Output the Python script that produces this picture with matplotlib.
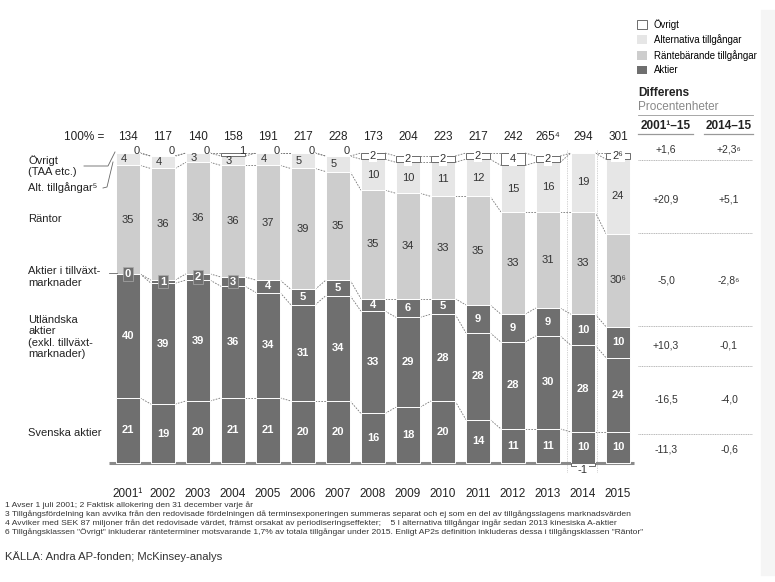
import numpy as np
import matplotlib.pyplot as plt
from matplotlib.lines import Line2D
from matplotlib.patches import Patch, Rectangle

plt.rcParams['font.family'] = ['Liberation Sans', 'DejaVu Sans']

years = ['2001¹', '2002', '2003', '2004', '2005', '2006', '2007', '2008',
         '2009', '2010', '2011', '2012', '2013', '2014', '2015']
totals = ['134', '117', '140', '158', '191', '217', '228', '173', '204',
          '223', '217', '242', '265⁴', '294', '301']

svenska = [21, 19, 20, 21, 21, 20, 20, 16, 18, 20, 14, 11, 11, 10, 10]
utlandska = [40, 39, 39, 36, 34, 31, 34, 33, 29, 28, 28, 28, 30, 28, 24]
tillvaxt = [0, 1, 2, 3, 4, 5, 5, 4, 6, 5, 9, 9, 9, 10, 10]
rantor = [35, 36, 36, 36, 37, 39, 35, 35, 34, 33, 35, 33, 31, 33, 30]
alternativa = [4, 4, 3, 3, 4, 5, 5, 10, 10, 11, 12, 15, 16, 19, 24]
ovrigt = [0, 0, 0, 1, 0, 0, 0, 2, 2, 2, 2, 4, 2, -1, 2]
label_notes = {('rantor', 14): '⁶', ('ovrigt', 14): '⁶'}

row_labels = ['Övrigt\n(TAA etc.)', 'Alt. tillgångar⁵', 'Räntor',
              'Aktier i tillväxt-\nmarknader',
              'Utländska\naktier\n(exkl. tillväxt-\nmarknader)', 'Svenska aktier']
diff_long = ['+1,6', '+20,9', '-5,0', '+10,3', '-16,5', '-11,3']
diff_short = ['+2,3⁶', '+5,1', '-2,8⁶', '-0,1', '-4,0', '-0,6']

footnotes = [
    '1 Avser 1 juli 2001; 2 Faktisk allokering den 31 december varje år',
    '3 Tillgångsfördelning kan avvika från den redovisade fördelningen då terminsexponeringen '
    'summeras separat och ej som en del av tillgångsslagens marknadsvärden',
    '4 Avviker med SEK 87 miljoner från det redovisade värdet, främst orsakat av '
    'periodiseringseffekter;    5 I alternativa tillgångar ingår sedan 2013 kinesiska A-aktier',
    '6 Tillgångsklassen "Övrigt" inkluderar ränteterminer motsvarande 1,7% av totala tillgångar '
    'under 2015. Enligt AP2s definition inkluderas dessa i tillgångsklassen "Räntor"',
]

DARK = '#6f6f6f'
MID = '#cdcdcd'
LIGHT = '#e6e6e6'
TXT = '#333333'

W, H = 775, 582


def px(x, y):
    return x / W, 1 - y / H


fig = plt.figure(figsize=(7.75, 5.82), dpi=100)
fig.patches.append(Rectangle(px(761, 575), 14 / W, 565 / H, transform=fig.transFigure,
                             color='#f5f5f5', zorder=0))

ax = fig.add_axes([110.5 / W, (H - 478.5) / H, 525 / W, 356.5 / H])
ax.set_xlim(-0.5, 14.5)
ax.set_ylim(-5, 110)
for s in ax.spines.values():
    s.set_visible(False)
ax.set_yticks([])
x = np.arange(len(years))
ax.set_xticks(x, years, fontsize=8.5, color='#222222')
ax.tick_params(axis='x', length=0, pad=6.5)
ax.patch.set_alpha(0)

bw = 0.69
hw = bw / 2
layers = [('svenska', svenska, DARK), ('utlandska', utlandska, DARK),
          ('tillvaxt', tillvaxt, DARK), ('rantor', rantor, MID),
          ('alternativa', alternativa, LIGHT)]

bottom = np.zeros(len(x))
levels = []
for name, vals, col in layers:
    vals = np.array(vals, dtype=float)
    ax.bar(x, vals, bottom=bottom, width=bw, color=col, edgecolor='white',
           linewidth=0.7, zorder=2)
    for i, v in enumerate(vals):
        mid = bottom[i] + v / 2
        lab = str(int(v)) + label_notes.get((name, i), '')
        if col == DARK:
            if name == 'tillvaxt' and v <= 3:
                ax.text(i, mid, lab, ha='center', va='center', fontsize=8,
                        color='white', fontweight='bold', zorder=4,
                        bbox=dict(boxstyle='square,pad=0.15', fc=DARK, ec='#aaaaaa', lw=0.5))
            else:
                ax.text(i, mid, lab, ha='center', va='center', fontsize=8,
                        color='white', fontweight='bold', zorder=4)
        else:
            xo = -0.12 if (name == 'alternativa' and v < 6) else 0
            ax.text(i + xo, mid, lab, ha='center', va='center', fontsize=8,
                    color=TXT, zorder=4)
    bottom = bottom + vals
    levels.append(bottom.copy())

# Övrigt: white boxes on top (negative values below the baseline)
ov = np.array(ovrigt, dtype=float)
ov_bottom = np.where(ov >= 0, bottom, 0)
mask = ov != 0
ax.bar(x[mask], ov[mask], bottom=ov_bottom[mask], width=bw, color='white',
       edgecolor='#555555', linewidth=0.6, zorder=2)
for i, v in enumerate(ov):
    lab = str(int(v)) + label_notes.get(('ovrigt', i), '')
    if i < 7:
        ax.text(i + 0.25, 100.7, lab, ha='center', va='center',
                fontsize=8, color=TXT, zorder=4)
    else:
        yc = ov_bottom[i] + v / 2
        if v < 0:
            yc = -2.3
        ax.text(i, yc, lab, ha='center', va='center', fontsize=8, color=TXT, zorder=4,
                bbox=dict(boxstyle='square,pad=0.12', fc='white', ec='none'))
top = bottom + np.clip(ov, 0, None)
levels.append(top)

# dashed connectors between bars
for lev in levels:
    for i in range(len(x) - 1):
        ax.plot([i + hw, i + 1 - hw], [lev[i], lev[i + 1]], color='#777777',
                lw=0.6, ls=(0, (2, 1.5)), zorder=1)

# faint dotted guides around 2014
for gx in (12.54, 13.4):
    ax.plot([gx, gx], [-3, 101], color='#aaaaaa', lw=0.5, ls=(0, (1, 1.5)), zorder=1)

# baseline
ax.plot([-0.55, 14.45], [0, 0], color='#8a8a8a', lw=2.2, zorder=1,
        solid_capstyle='butt', clip_on=False)

# totals
ax.text(-0.68, 105, '100% =', ha='right', va='center', fontsize=8.5, color='#222222')
for i, t in enumerate(totals):
    ax.text(i, 105, t, ha='center', va='center', fontsize=8.5, color='#222222')

# left row labels
label_y = [166, 188, 219, 277, 337, 433]
for lab, yy in zip(row_labels, label_y):
    fig.text(*px(28, yy), lab, ha='left', va='center', fontsize=8,
             color='#222222', linespacing=1.2)
fig.add_artist(Line2D([84 / W, 108 / W, 115 / W], [1 - 166 / H, 1 - 166 / H, 1 - 152 / H],
                      color='#666666', lw=0.6))
fig.add_artist(Line2D([103 / W, 107 / W, 113 / W], [1 - 188 / H, 1 - 187 / H, 1 - 162 / H],
                      color='#666666', lw=0.6))
fig.add_artist(Line2D([109 / W, 117 / W], [1 - 273 / H, 1 - 273 / H],
                      color='#666666', lw=0.6))

# legend
handles = [Patch(fc='white', ec='#555555', lw=0.6, label='Övrigt'),
           Patch(fc=LIGHT, ec='none', label='Alternativa tillgångar'),
           Patch(fc=MID, ec='none', label='Räntebärande tillgångar'),
           Patch(fc=DARK, ec='none', label='Aktier')]
fig.legend(handles=handles, loc='upper left', bbox_to_anchor=px(633, 15),
           frameon=False, fontsize=6.9, handlelength=1.05, handleheight=1.05,
           handletextpad=0.7, labelspacing=0.48, borderaxespad=0)

# difference table
fig.text(*px(638, 93), 'Differens', ha='left', va='center', fontsize=8.5,
         fontweight='bold', color='#222222')
fig.text(*px(638, 107), 'Procentenheter', ha='left', va='center', fontsize=8.5,
         color='#888888')
fig.add_artist(Line2D([638 / W, 753 / W], [1 - 115 / H] * 2, color='#999999', lw=0.6))
fig.text(*px(666, 126), '2001¹–15', ha='center', va='center', fontsize=8.5,
         fontweight='bold', color='#222222')
fig.text(*px(729, 126), '2014–15', ha='center', va='center', fontsize=8.5,
         fontweight='bold', color='#222222')
fig.add_artist(Line2D([638 / W, 693 / W], [1 - 134 / H] * 2, color='#999999', lw=0.9))
fig.add_artist(Line2D([704 / W, 753 / W], [1 - 134 / H] * 2, color='#999999', lw=0.9))
row_y = [150, 200, 280, 346, 400, 449]
sep_y = [160, 233, 326, 366, 434]
for a, b, yy in zip(diff_long, diff_short, row_y):
    fig.text(*px(666, yy), a, ha='center', va='center', fontsize=7.5, color='#333333')
    fig.text(*px(729, yy), b, ha='center', va='center', fontsize=7.5, color='#333333')
for yy in sep_y:
    fig.add_artist(Line2D([638 / W, 752 / W], [1 - yy / H] * 2, color='#999999',
                          lw=0.5, ls=(0, (1.5, 1))))

# footnotes and source
for k, line in enumerate(footnotes):
    fig.text(*px(5, 505 + 8.9 * k), line, ha='left', va='center', fontsize=6.1,
             color='#333333')
fig.text(*px(5, 557), 'KÄLLA: Andra AP-fonden; McKinsey-analys', ha='left', va='center',
         fontsize=8.1, color='#333333')

fig.savefig('out.png', dpi=100, facecolor='white')
